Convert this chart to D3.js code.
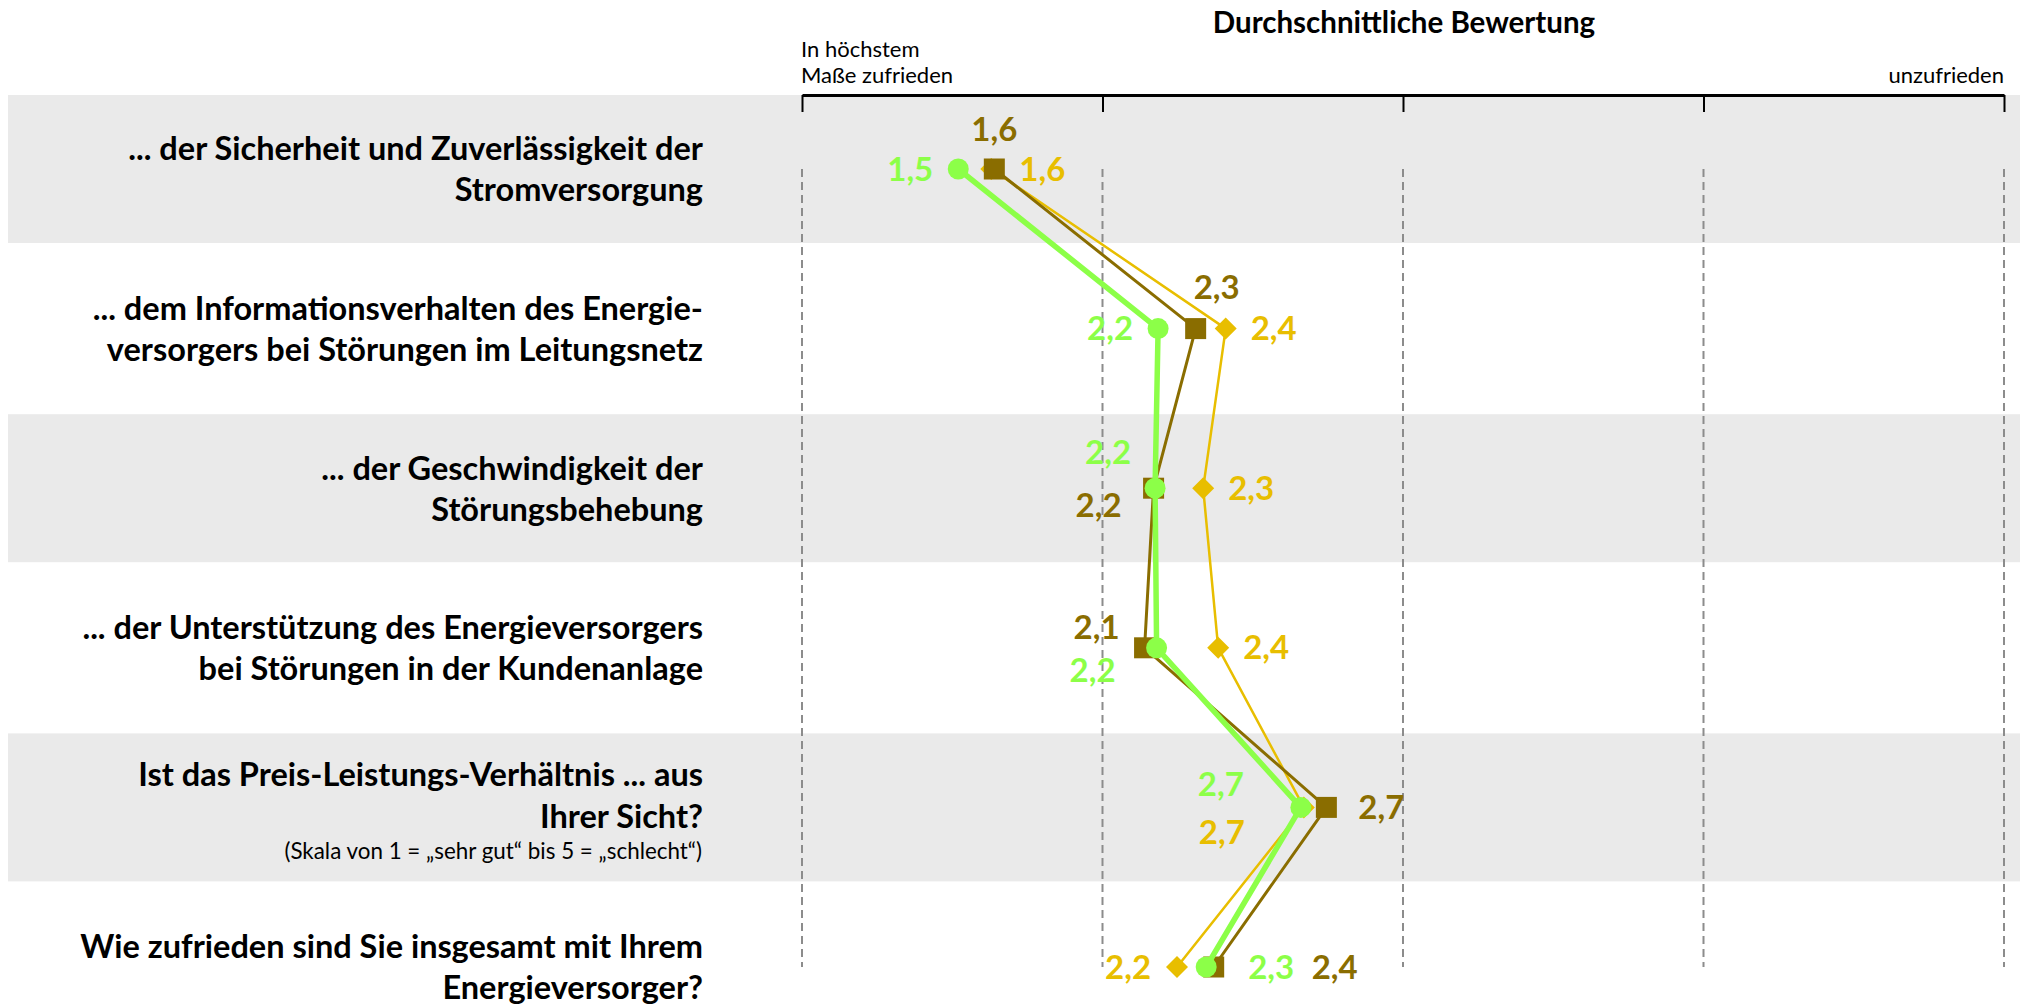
<!DOCTYPE html>
<html>
<head>
<meta charset="utf-8">
<script src="https://cdn.jsdelivr.net/npm/d3@7/dist/d3.min.js"></script>
<style>
  html, body { margin: 0; padding: 0; background: #ffffff; }
  svg { display: block; font-family: Lato, "Open Sans", "Noto Sans", sans-serif; }
</style>
</head>
<body>
<svg id="chart" width="2020" height="1005"></svg>
<script>
// Survey items (one row each), split into the lines they are printed on
const categories = [
  "Sicherheit",
  "Informationsverhalten",
  "Geschwindigkeit",
  "Unterstützung",
  "Preis-Leistung",
  "Gesamtzufriedenheit"
];
const labelLines = [
  ["... der Sicherheit und Zuverlässigkeit der", "Stromversorgung"],
  ["... dem Informationsverhalten des Energie-", "versorgers bei Störungen im Leitungsnetz"],
  ["... der Geschwindigkeit der", "Störungsbehebung"],
  ["... der Unterstützung des Energieversorgers", "bei Störungen in der Kundenanlage"],
  ["Ist das Preis-Leistungs-Verhältnis ... aus", "Ihrer Sicht?"],
  ["Wie zufrieden sind Sie insgesamt mit Ihrem", "Energieversorger?"]
];
const subtitles = [null, null, null, null, "(Skala von 1 = „sehr gut“ bis 5 = „schlecht“)", null];

// Scale (1 = best, 5 = worst)
const tickValues = [1, 2, 3, 4, 5];
const scaleLeftLabel = ["In höchstem", "Maße zufrieden"];
const scaleRightLabel = "unzufrieden";
const chartTitle = "Durchschnittliche Bewertung";

// Average ratings per series
const valuesDiamond = [1.63, 2.41, 2.335, 2.385, 2.67, 2.248];
const valuesSquare  = [1.64, 2.31, 2.17, 2.14, 2.745, 2.37];
const valuesCircle  = [1.52, 2.185, 2.175, 2.18, 2.66, 2.345];

// Where each value label sits relative to its marker [dx, dy]
const offsetsDiamond = [[51, 0], [48, 0], [48, 0], [48, 0], [-82, 25], [-49, 0]];
const offsetsSquare  = [[0, -40], [21, -41], [-55, 17], [-48, -20], [55, 0], [121, 0]];
const offsetsCircle  = [[-48, 0], [-48, 0], [-47, -36], [-64, 23], [-80, -23], [65, 0]];

const series = [
  { key: "diamond", values: valuesDiamond, offsets: offsetsDiamond, color: "#E8BE00", width: 2.5 },
  { key: "square",  values: valuesSquare,  offsets: offsetsSquare,  color: "#8A6D00", width: 3 },
  { key: "circle",  values: valuesCircle,  offsets: offsetsCircle,  color: "#8CFF48", width: 5.5 }
];

const svg = d3.select("#chart");
const W = 2020;

const x = d3.scaleLinear().domain([1, 5]).range([802, 2004]);
const y = d3.scalePoint().domain(categories).range([169, 967]);
const bandH = 148;

const fmt = v => d3.format(".1f")(v).replace(".", ",");

// Alternating grey row bands
svg.append("g").selectAll("rect")
  .data(categories.filter((c, i) => i % 2 === 0))
  .join("rect")
  .attr("x", 8)
  .attr("width", W - 8)
  .attr("y", d => y(d) - bandH / 2)
  .attr("height", bandH)
  .attr("fill", "#EAEAEA");

// Row labels
const labels = svg.append("g")
  .attr("font-weight", 700)
  .attr("font-size", 32.5)
  .attr("fill", "#000")
  .attr("text-anchor", "end");
categories.forEach((c, i) => {
  const cy = y(c);
  const hasSub = subtitles[i] !== null;
  const offs = hasSub ? [-33, 9] : [-20, 21];
  labelLines[i].forEach((line, j) => {
    labels.append("text")
      .attr("x", 703)
      .attr("y", cy + offs[j])
      .attr("dy", "0.35em")
      .text(line);
  });
  if (hasSub) {
    labels.append("text")
      .attr("x", 702)
      .attr("y", cy + 44)
      .attr("dy", "0.35em")
      .attr("font-weight", 400)
      .attr("font-size", 22.4)
      .text(subtitles[i]);
  }
});

// Top axis with downward ticks
const axis = d3.axisBottom(x)
  .tickValues(tickValues)
  .tickSize(17)
  .tickSizeOuter(0)
  .tickFormat("");
const axisG = svg.append("g")
  .attr("transform", "translate(0,95)")
  .call(axis);
axisG.select(".domain").attr("stroke", "#000").attr("stroke-width", 3);
axisG.selectAll(".tick line").attr("stroke", "#000").attr("stroke-width", 2);

// Dashed vertical guides
svg.append("g").selectAll("line")
  .data(tickValues)
  .join("line")
  .attr("x1", d => x(d)).attr("x2", d => x(d))
  .attr("y1", y(categories[0])).attr("y2", y(categories[categories.length - 1]))
  .attr("stroke", "#8C8C8C")
  .attr("stroke-width", 2)
  .attr("stroke-dasharray", "8,5");

// Title and scale end labels
svg.append("text")
  .attr("x", 1404).attr("y", 23).attr("dy", "0.35em")
  .attr("text-anchor", "middle")
  .attr("font-weight", 700)
  .attr("font-size", 29.5)
  .text(chartTitle);
scaleLeftLabel.forEach((t, i) => {
  svg.append("text")
    .attr("x", x(1) - 1).attr("y", 49 + i * 26).attr("dy", "0.35em")
    .attr("font-size", 22)
    .text(t);
});
svg.append("text")
  .attr("x", x(5)).attr("y", 75).attr("dy", "0.35em")
  .attr("text-anchor", "end")
  .attr("font-size", 22)
  .text(scaleRightLabel);

// Lines and markers
const line = d3.line()
  .x(d => x(d.v))
  .y(d => y(d.c));

series.forEach(s => {
  const pts = s.values.map((v, i) => ({ v, c: categories[i], i }));
  const g = svg.append("g");
  g.append("path")
    .datum(pts)
    .attr("d", line)
    .attr("fill", "none")
    .attr("stroke", s.color)
    .attr("stroke-width", s.width)
    .attr("stroke-linejoin", "round");

  if (s.key === "circle") {
    g.selectAll("circle").data(pts).join("circle")
      .attr("cx", d => x(d.v)).attr("cy", d => y(d.c))
      .attr("r", 10.5)
      .attr("fill", s.color);
  } else if (s.key === "square") {
    g.selectAll("rect").data(pts).join("rect")
      .attr("x", d => x(d.v) - 10.5).attr("y", d => y(d.c) - 10.5)
      .attr("width", 21).attr("height", 21)
      .attr("fill", s.color);
  } else {
    const h = 11;
    g.selectAll("path.mk").data(pts).join("path")
      .attr("class", "mk")
      .attr("d", d => {
        const cx = x(d.v), cy = y(d.c);
        return `M${cx},${cy - h}L${cx + h},${cy}L${cx},${cy + h}L${cx - h},${cy}Z`;
      })
      .attr("fill", s.color);
  }
  s.pts = pts;
});

// Value labels
series.forEach(s => {
  svg.append("g").selectAll("text").data(s.pts).join("text")
    .attr("x", d => x(d.v) + s.offsets[d.i][0])
    .attr("y", d => y(d.c) + s.offsets[d.i][1])
    .attr("dy", "0.35em")
    .attr("text-anchor", "middle")
    .attr("font-weight", 700)
    .attr("font-size", 33)
    .attr("fill", s.color)
    .text(d => fmt(d.v));
});
</script>
</body>
</html>
